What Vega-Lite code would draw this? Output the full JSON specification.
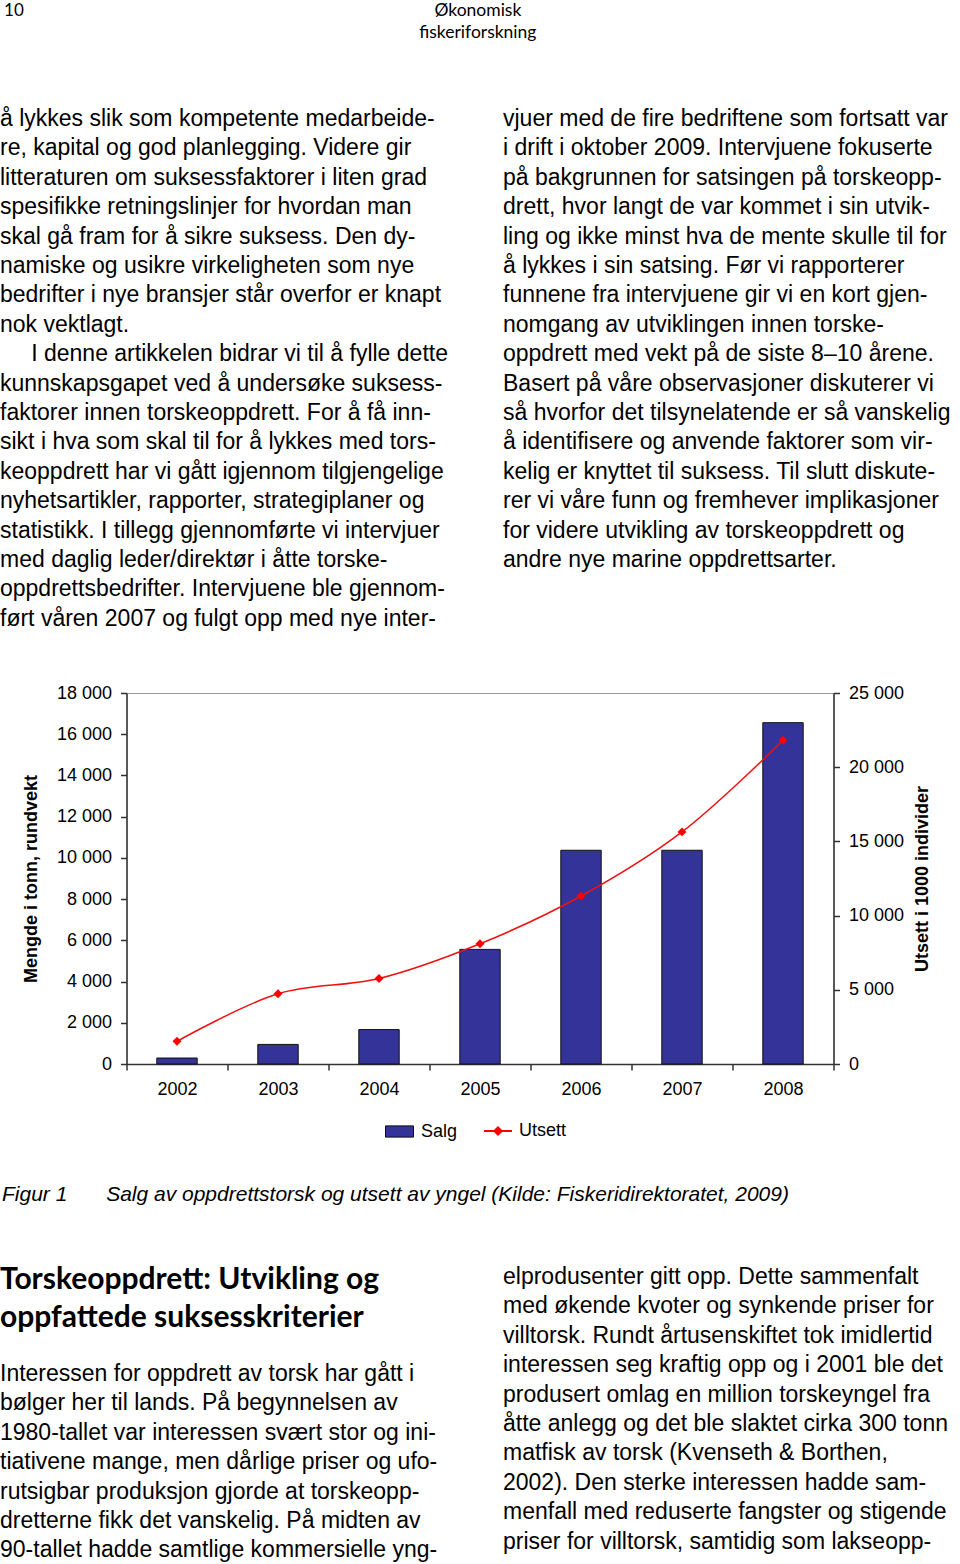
{
  "$schema": "https://vega.github.io/schema/vega-lite/v6.json",
  "background": "white",
  "padding": 0,
  "bounds": "flush",
  "center": true,
  "spacing": 0,
  "config": {
    "view": {"stroke": null},
    "locale": {"number": {"decimal": ",", "thousands": " ", "grouping": [3], "currency": ["", " kr"]}},
    "axis": {
      "grid": false,
      "domainColor": "#333333",
      "domainWidth": 1.5,
      "tickColor": "#333333",
      "tickWidth": 1.5,
      "tickSize": 6,
      "labelFont": "Liberation Sans",
      "labelFontSize": 18,
      "labelColor": "#000000",
      "titleFont": "Liberation Sans",
      "titleFontSize": 18,
      "titleFontWeight": "bold",
      "titleColor": "#000000"
    },
    "legend": {
      "orient": "none",
      "direction": "horizontal",
      "title": null,
      "padding": 0,
      "symbolSize": 784,
      "labelFont": "Liberation Sans",
      "labelFontSize": 18,
      "labelColor": "#000000",
      "labelOffset": 7
    }
  },
  "vconcat": [
    {
      "width": 960,
      "height": 693,
      "view": {"stroke": null},
      "encoding": {
        "x": {"field": "col", "type": "quantitative", "scale": {"domain": [0, 1], "range": [0, 503], "nice": false, "zero": false}, "axis": null},
        "y": {"field": "line", "type": "quantitative", "scale": {"domain": [0, 17], "range": [126, 625.8], "nice": false, "zero": false}, "axis": null},
        "text": {"field": "text", "type": "nominal"}
      },
      "layer": [
        {
          "data": {"values": [
            {"col": 0, "line": 0, "text": "å lykkes slik som kompetente medarbeide-"},
            {"col": 0, "line": 1, "text": "re, kapital og god planlegging. Videre gir"},
            {"col": 0, "line": 2, "text": "litteraturen om suksessfaktorer i liten grad"},
            {"col": 0, "line": 3, "text": "spesifikke retningslinjer for hvordan man"},
            {"col": 0, "line": 4, "text": "skal gå fram for å sikre suksess. Den dy-"},
            {"col": 0, "line": 5, "text": "namiske og usikre virkeligheten som nye"},
            {"col": 0, "line": 6, "text": "bedrifter i nye bransjer står overfor er knapt"},
            {"col": 0, "line": 7, "text": "nok vektlagt."},
            {"col": 0.062, "line": 8, "text": "I denne artikkelen bidrar vi til å fylle dette"},
            {"col": 0, "line": 9, "text": "kunnskapsgapet ved å undersøke suksess-"},
            {"col": 0, "line": 10, "text": "faktorer innen torskeoppdrett. For å få inn-"},
            {"col": 0, "line": 11, "text": "sikt i hva som skal til for å lykkes med tors-"},
            {"col": 0, "line": 12, "text": "keoppdrett har vi gått igjennom tilgjengelige"},
            {"col": 0, "line": 13, "text": "nyhetsartikler, rapporter, strategiplaner og"},
            {"col": 0, "line": 14, "text": "statistikk. I tillegg gjennomførte vi intervjuer"},
            {"col": 0, "line": 15, "text": "med daglig leder/direktør i åtte torske-"},
            {"col": 0, "line": 16, "text": "oppdrettsbedrifter. Intervjuene ble gjennom-"},
            {"col": 0, "line": 17, "text": "ført våren 2007 og fulgt opp med nye inter-"},
            {"col": 1, "line": 0, "text": "vjuer med de fire bedriftene som fortsatt var"},
            {"col": 1, "line": 1, "text": "i drift i oktober 2009. Intervjuene fokuserte"},
            {"col": 1, "line": 2, "text": "på bakgrunnen for satsingen på torskeopp-"},
            {"col": 1, "line": 3, "text": "drett, hvor langt de var kommet i sin utvik-"},
            {"col": 1, "line": 4, "text": "ling og ikke minst hva de mente skulle til for"},
            {"col": 1, "line": 5, "text": "å lykkes i sin satsing. Før vi rapporterer"},
            {"col": 1, "line": 6, "text": "funnene fra intervjuene gir vi en kort gjen-"},
            {"col": 1, "line": 7, "text": "nomgang av utviklingen innen torske-"},
            {"col": 1, "line": 8, "text": "oppdrett med vekt på de siste 8–10 årene."},
            {"col": 1, "line": 9, "text": "Basert på våre observasjoner diskuterer vi"},
            {"col": 1, "line": 10, "text": "så hvorfor det tilsynelatende er så vanskelig"},
            {"col": 1, "line": 11, "text": "å identifisere og anvende faktorer som vir-"},
            {"col": 1, "line": 12, "text": "kelig er knyttet til suksess. Til slutt diskute-"},
            {"col": 1, "line": 13, "text": "rer vi våre funn og fremhever implikasjoner"},
            {"col": 1, "line": 14, "text": "for videre utvikling av torskeoppdrett og"},
            {"col": 1, "line": 15, "text": "andre nye marine oppdrettsarter."}
          ]},
          "mark": {"type": "text", "align": "left", "baseline": "alphabetic", "font": "Liberation Sans", "fontSize": 23, "color": "#000000"}
        },
        {
          "data": {"values": [
            {"col": 0.008, "line": -3.75, "text": "10"}
          ]},
          "mark": {"type": "text", "align": "left", "baseline": "alphabetic", "font": "Lato", "fontSize": 17, "color": "#000000"}
        },
        {
          "data": {"values": [
            {"col": 0.95, "line": -3.75, "text": "Økonomisk"},
            {"col": 0.95, "line": -2.99, "text": "fiskeriforskning"}
          ]},
          "mark": {"type": "text", "align": "center", "baseline": "alphabetic", "font": "Lato", "fontSize": 17.5, "color": "#000000"}
        }
      ]
    },
    {
      "width": 707,
      "height": 371,
      "view": {"stroke": "#999999", "strokeWidth": 1},
      "data": {"values": [
        {"year": "2002", "salg": 290, "utsett": 1530},
        {"year": "2003", "salg": 950, "utsett": 4730},
        {"year": "2004", "salg": 1670, "utsett": 5760},
        {"year": "2005", "salg": 5560, "utsett": 8100},
        {"year": "2006", "salg": 10370, "utsett": 11320},
        {"year": "2007", "salg": 10370, "utsett": 15640},
        {"year": "2008", "salg": 16560, "utsett": 21810}
      ]},
      "encoding": {
        "x": {
          "field": "year", "type": "ordinal",
          "scale": {"paddingInner": 0, "paddingOuter": 0},
          "axis": {"title": null, "labelAngle": 0, "tickBand": "extent", "labelPadding": 10}
        }
      },
      "layer": [
        {
          "mark": {"type": "bar", "width": {"band": 0.4}, "stroke": "#111111", "strokeWidth": 1},
          "encoding": {
            "y": {
              "field": "salg", "type": "quantitative",
              "scale": {"domain": [0, 18000], "nice": false},
              "axis": {"orient": "left", "values": [0, 2000, 4000, 6000, 8000, 10000, 12000, 14000, 16000, 18000], "format": ",d", "title": "Mengde i tonn, rundvekt", "titlePadding": 16, "labelPadding": 9}
            },
            "color": {
              "datum": "Salg", "type": "nominal",
              "scale": {"domain": ["Salg"], "range": ["#333399"]},
              "legend": {
                "legendX": 258.5, "legendY": 424,
                "symbolType": "M-1,-0.4H1V0.4H-1Z",
                "symbolStrokeColor": "#111111", "symbolStrokeWidth": 1
              }
            }
          }
        },
        {
          "encoding": {
            "y": {
              "field": "utsett", "type": "quantitative",
              "scale": {"domain": [0, 25000], "nice": false},
              "axis": {"orient": "right", "values": [0, 5000, 10000, 15000, 20000, 25000], "format": ",d", "title": "Utsett i 1000 individer", "titleAngle": 270, "titleBaseline": "top", "titlePadding": 10, "labelPadding": 9}
            }
          },
          "layer": [
            {"mark": {"type": "line", "interpolate": "catmull-rom", "strokeWidth": 1.5, "color": "#ee1111"}},
            {
              "mark": {"type": "point", "shape": "diamond", "filled": true, "size": 80, "opacity": 1},
              "encoding": {
                "color": {
                  "datum": "Utsett", "type": "nominal",
                  "scale": {"domain": ["Utsett"], "range": ["#ff0000"]},
                  "legend": {
                    "legendX": 357.5, "legendY": 424,
                    "symbolType": "M-1,-0.07H1V0.07H-1Z M0,-0.36L0.36,0L0,0.36L-0.36,0Z",
                    "symbolSize": 784,
                    "symbolStrokeWidth": 0
                  }
                }
              }
            }
          ]
        }
      ],
      "resolve": {"scale": {"y": "independent", "color": "independent"}}
    },
    {
      "width": 960,
      "height": 500,
      "view": {"stroke": null},
      "encoding": {
        "x": {"field": "col", "type": "quantitative", "scale": {"domain": [0, 1], "range": [0, 503], "nice": false, "zero": false}, "axis": null},
        "y": {"field": "line", "type": "quantitative", "scale": {"domain": [0, 10], "range": [220, 514], "nice": false, "zero": false}, "axis": null},
        "text": {"field": "text", "type": "nominal"}
      },
      "layer": [
        {
          "data": {"values": [
            {"col": 0.004, "line": -2.823, "text": "Figur 1"},
            {"col": 0.211, "line": -2.823, "text": "Salg av oppdrettstorsk og utsett av yngel (Kilde: Fiskeridirektoratet, 2009)"}
          ]},
          "mark": {"type": "text", "align": "left", "baseline": "alphabetic", "font": "Liberation Sans", "fontSize": 21, "fontStyle": "italic", "color": "#000000"}
        },
        {
          "data": {"values": [
            {"col": 0, "line": 0.17, "text": "Torskeoppdrett: Utvikling og"},
            {"col": 0, "line": 1.463, "text": "oppfattede suksesskriterier"}
          ]},
          "mark": {"type": "text", "align": "left", "baseline": "alphabetic", "font": "Lato", "fontSize": 30, "fontWeight": "bold", "color": "#000000"}
        },
        {
          "data": {"values": [
            {"col": 0, "line": 3.3, "text": "Interessen for oppdrett av torsk har gått i"},
            {"col": 0, "line": 4.3, "text": "bølger her til lands. På begynnelsen av"},
            {"col": 0, "line": 5.3, "text": "1980-tallet var interessen svært stor og ini-"},
            {"col": 0, "line": 6.3, "text": "tiativene mange, men dårlige priser og ufo-"},
            {"col": 0, "line": 7.3, "text": "rutsigbar produksjon gjorde at torskeopp-"},
            {"col": 0, "line": 8.3, "text": "dretterne fikk det vanskelig. På midten av"},
            {"col": 0, "line": 9.3, "text": "90-tallet hadde samtlige kommersielle yng-"},
            {"col": 1, "line": 0, "text": "elprodusenter gitt opp. Dette sammenfalt"},
            {"col": 1, "line": 1, "text": "med økende kvoter og synkende priser for"},
            {"col": 1, "line": 2, "text": "villtorsk. Rundt årtusenskiftet tok imidlertid"},
            {"col": 1, "line": 3, "text": "interessen seg kraftig opp og i 2001 ble det"},
            {"col": 1, "line": 4, "text": "produsert omlag en million torskeyngel fra"},
            {"col": 1, "line": 5, "text": "åtte anlegg og det ble slaktet cirka 300 tonn"},
            {"col": 1, "line": 6, "text": "matfisk av torsk (Kvenseth & Borthen,"},
            {"col": 1, "line": 7, "text": "2002). Den sterke interessen hadde sam-"},
            {"col": 1, "line": 8, "text": "menfall med reduserte fangster og stigende"},
            {"col": 1, "line": 9, "text": "priser for villtorsk, samtidig som lakseopp-"}
          ]},
          "mark": {"type": "text", "align": "left", "baseline": "alphabetic", "font": "Liberation Sans", "fontSize": 23, "color": "#000000"}
        }
      ]
    }
  ]
}
